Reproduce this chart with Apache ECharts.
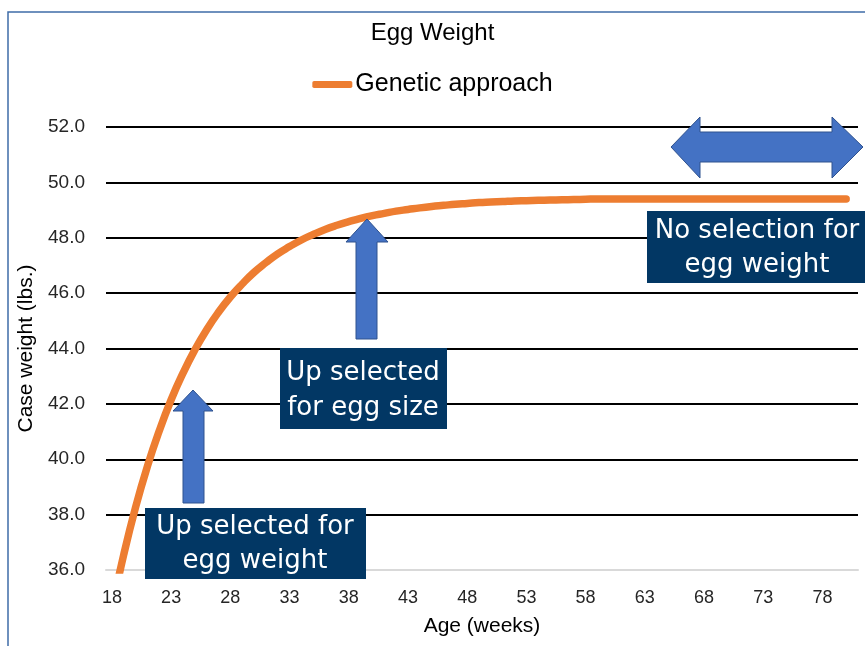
<!DOCTYPE html>
<html><head><meta charset="utf-8">
<script src="https://cdn.jsdelivr.net/npm/echarts@6/dist/echarts.min.js"></script>
<style>html,body{margin:0;padding:0;background:#fff}#c{width:865px;height:646px}</style>
</head><body><div id="c"></div>
<script>
const chartTitle = 'Egg Weight';
const seriesName = 'Genetic approach';
const xName = 'Age (weeks)';
const yName = 'Case weight (lbs.)';
const weeks = [18,19,20,21,22,23,24,25,26,27,28,29,30,31,32,33,34,35,36,37,38,39,40,41,42,43,44,45,46,47,48,49,50,51,52,53,54,55,56,57,58,59,60,61,62,63,64,65,66,67,68,69,70,71,72,73,74,75,76,77,78,79,80];
const weights = [34.6,36.56,38.27,39.75,41.03,42.15,43.11,43.95,44.68,45.31,45.86,46.33,46.75,47.10,47.42,47.68,47.92,48.12,48.30,48.45,48.58,48.70,48.80,48.88,48.96,49.02,49.08,49.13,49.17,49.21,49.24,49.27,49.29,49.31,49.33,49.34,49.35,49.36,49.37,49.38,49.39,49.40,49.40,49.40,49.40,49.40,49.40,49.40,49.40,49.40,49.40,49.40,49.40,49.40,49.40,49.40,49.40,49.40,49.40,49.40,49.40,49.40,49.40];
const xTickLabels = [18,23,28,33,38,43,48,53,58,63,68,73,78];
const yMin = 36, yMax = 52, yStep = 2;
const notes = [
  ['Up selected for', 'egg weight'],
  ['Up selected', 'for egg size'],
  ['No selection for', 'egg weight']
];

const chart = echarts.init(document.getElementById('c'), null, {renderer: 'canvas'});
const F = "'Liberation Sans', Arial, sans-serif";
const BF = "'DejaVu Sans', sans-serif";
const arrowStyle = {fill: '#4472C4', stroke: '#2F528F', lineWidth: 1};
const boxFill = '#023764';

function boxText(lines, cx, y1, y2) {
  return [
    {type: 'text', z: 101, style: {text: lines[0], x: cx, y: y1, textAlign: 'center', textVerticalAlign: 'middle', fill: '#fff', font: '26px ' + BF}},
    {type: 'text', z: 101, style: {text: lines[1], x: cx, y: y2, textAlign: 'center', textVerticalAlign: 'middle', fill: '#fff', font: '26px ' + BF}}
  ];
}

chart.setOption({
  backgroundColor: '#fff',
  animation: false,
  title: {text: chartTitle, left: 'center', top: 16, textStyle: {fontFamily: F, fontSize: 24, fontWeight: 'normal', color: '#000'}},
  legend: {data: [seriesName], top: 67, left: 'center', icon: 'roundRect', itemWidth: 40, itemHeight: 7, itemGap: 4,
    textStyle: {fontFamily: F, fontSize: 25, color: '#000', padding: [0,0,0,-2]}},
  grid: {left: 106, right: 7, top: 127, bottom: 76},
  xAxis: {
    type: 'value', min: 17.5, max: 81,
    name: xName, nameLocation: 'middle', nameGap: 46,
    nameTextStyle: {fontFamily: F, fontSize: 21, color: '#000'},
    axisLine: {show: true, lineStyle: {color: '#d9d9d9', width: 2}},
    axisTick: {show: false},
    splitLine: {show: false},
    axisLabel: {customValues: xTickLabels, margin: 19, fontFamily: F, fontSize: 18, color: '#262626'}
  },
  yAxis: {
    type: 'value', min: yMin, max: yMax, interval: yStep,
    name: yName, nameLocation: 'middle', nameGap: 64,
    nameTextStyle: {fontFamily: F, fontSize: 21, color: '#000'},
    axisLine: {show: false}, axisTick: {show: false},
    axisLabel: {margin: 21, fontFamily: F, fontSize: 19, color: '#262626', formatter: v => v.toFixed(1)},
    splitLine: {show: true, showMinLine: false, lineStyle: {color: '#000', width: 2}}
  },
  series: [{
    name: seriesName, type: 'line', smooth: true, showSymbol: false, clip: true,
    data: weeks.map((w, i) => [w, weights[i]]),
    itemStyle: {color: '#ED7D31'},
    lineStyle: {color: '#ED7D31', width: 7.5, cap: 'round'}
  }],
  graphic: [
    {type: 'rect', z: 50, shape: {x: 8, y: 12, width: 870, height: 650}, style: {fill: 'none', stroke: '#3F6CA8', lineWidth: 1.5}},
    {type: 'polygon', z: 100, shape: {points: [[183,503],[183,411],[173,411],[193,390],[213,411],[204,411],[204,503]]}, style: arrowStyle},
    {type: 'polygon', z: 100, shape: {points: [[356,339],[356,242],[346,242],[367,219],[388,242],[377,242],[377,339]]}, style: arrowStyle},
    {type: 'polygon', z: 100, shape: {points: [[671,147],[700,117],[700,132],[832,132],[832,117],[863,147],[832,178],[832,162],[700,162],[700,178]]}, style: arrowStyle},
    {type: 'rect', z: 100, shape: {x: 145, y: 508, width: 221, height: 71}, style: {fill: boxFill}},
    {type: 'rect', z: 100, shape: {x: 280, y: 348, width: 167, height: 81}, style: {fill: boxFill}},
    {type: 'rect', z: 100, shape: {x: 647, y: 211, width: 225, height: 72}, style: {fill: boxFill}},
    ...boxText(notes[0], 255, 527, 561),
    ...boxText(notes[1], 363, 373, 408),
    ...boxText(notes[2], 757, 231, 265)
  ]
});
</script></body></html>
